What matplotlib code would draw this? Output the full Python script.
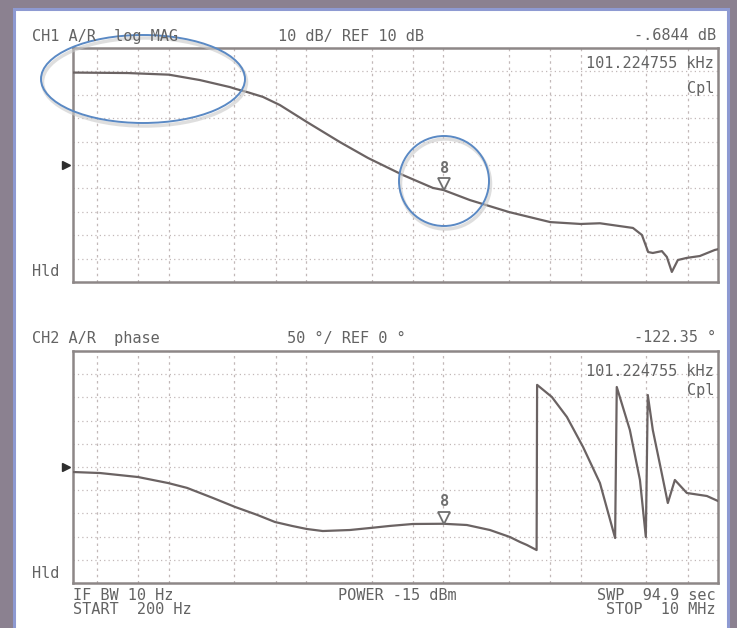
import numpy as np
import matplotlib.pyplot as plt
from matplotlib.patches import Ellipse, Rectangle
from matplotlib import transforms

# CH1: A/R log MAG (frequency in Hz, value in dB)
mag_freq = [200, 500, 1000, 1680, 2780, 3030, 3700, 4840, 6440, 10100, 17600,
            28200, 50700, 83800, 100000, 156000, 300000, 600000, 1000000,
            1380000, 2400000, 2790000, 3100000, 3350000, 3900000, 4240000,
            4610000, 5100000, 5930000, 7370000, 9480000, 10000000]
mag_db = [49.5, 49.3, 48.6, 46.3, 43.3, 42.6, 41.2, 39.1, 35.6, 28.4, 19.8,
          13.0, 5.7, 0.2, -0.7, -5.0, -10.1, -14.4, -15.2,
          -14.9, -16.9, -19.9, -27.2, -27.6, -26.8, -29.3,
          -35.7, -30.6, -29.7, -28.9, -26.3, -26.0]

# CH2: A/R phase (frequency in Hz, value in degrees)
phase_freq = [200, 315, 595, 984, 1354, 2094, 3026, 4376, 5918, 7874, 10100,
              13200, 20800, 29100, 40700, 59900, 100000, 148000, 218000,
              305000, 361000, 405000, 477000, 481000, 616000, 793000,
              1040000, 1380000, 1780000, 1830000, 2280000, 2700000, 2980000,
              3080000, 3350000, 3770000, 4310000, 4850000, 5930000, 8300000,
              10000000]
phase_deg = [-10.8, -13.0, -21.6, -34.5, -45.0, -66.8, -86.0, -103.0, -118.5,
             -127.0, -133.6, -138.0, -135.8, -131.5, -127.0, -122.8, -122.35,
             -125.0, -135.8, -150.9, -161.6, -168.0, -179.0, 177.0, 150.9,
             107.8, 43.1, -34.5, -153.0, 172.4, 79.7, -28.0, -150.9, 155.2,
             79.7, 6.5, -77.6, -28.0, -56.0, -62.5, -73.3]

grid_freq = [300, 600, 1e3, 3e3, 6e3, 1e4, 3e4, 6e4, 1e5, 3e5, 6e5, 1e6, 3e6, 6e6]
f_start, f_stop = 200, 1e7

marker_freq = 101224.755
marker_mag = -0.6844
marker_phase = -122.35

trace_col = '#6b6363'
grid_col = '#c2b8b8'
text_col = '#636363'
mono = 'DejaVu Sans Mono'

fig = plt.figure(figsize=(7.37, 6.28), dpi=100)
fig.patch.set_facecolor('#8b8190')

# background panel (pixel coordinates)
bg = fig.add_axes([0, 0, 1, 1], zorder=0)
bg.set_xlim(0, 737)
bg.set_ylim(628, 0)
bg.axis('off')
bg.add_patch(Rectangle((14, 9), 714, 630, facecolor='white',
                       edgecolor='#8e9ad2', lw=2.2))


def setup(ax, ref, per_div):
    ax.set_xscale('log')
    ax.set_xlim(f_start, f_stop)
    ax.set_ylim(ref - 5 * per_div, ref + 5 * per_div)
    ax.set_facecolor('white')
    for f in grid_freq:
        ax.axvline(f, color=grid_col, lw=0.9, ls=(0, (2, 3)), zorder=1)
    for k in range(1, 10):
        ax.axhline(ref - 5 * per_div + k * per_div, color=grid_col, lw=0.9,
                   ls=(0, (1, 2.5)), zorder=1)
    ax.set_xticks([])
    ax.set_yticks([])
    ax.minorticks_off()
    for s in ax.spines.values():
        s.set_color('#8d8787')
        s.set_linewidth(1.8)
    # reference position triangle
    tr = transforms.blended_transform_factory(ax.transAxes, ax.transData)
    ax.plot([-0.011], [ref], marker='>', ms=6, color='#2e2e2e',
            transform=tr, clip_on=False, zorder=5)


def draw_marker(ax, f, v):
    tri = transforms.offset_copy(ax.transData, fig=fig, x=0, y=6, units='dots')
    ax.plot([f], [v], marker='v', ms=8, mfc='white', mec='#6f6f6f',
            mew=1.3, transform=tri, zorder=4)
    ax.annotate('8', xy=(f, v), xytext=(0, 22), textcoords='offset pixels',
                ha='center', va='center', fontsize=11, color='#707070',
                family=mono, fontweight='bold', zorder=4)


ax1 = fig.add_axes([73 / 737, 1 - 282 / 628, 645 / 737, 234 / 628], zorder=1)
setup(ax1, 10, 10)
ax1.plot(mag_freq, mag_db, color=trace_col, lw=1.6, zorder=3)
draw_marker(ax1, marker_freq, marker_mag)

ax2 = fig.add_axes([73 / 737, 1 - 583 / 628, 645 / 737, 232 / 628], zorder=1)
setup(ax2, 0, 50)
ax2.plot(phase_freq, phase_deg, color=trace_col, lw=1.6, zorder=3)
draw_marker(ax2, marker_freq, marker_phase)

# overlay for texts and annotations (pixel coordinates)
ov = fig.add_axes([0, 0, 1, 1], zorder=5)
ov.patch.set_alpha(0)
ov.set_xlim(0, 737)
ov.set_ylim(628, 0)
ov.axis('off')

kw = dict(family=mono, fontsize=11, color=text_col, va='center')
ov.text(32, 36, 'CH1 A/R  log MAG', ha='left', **kw)
ov.text(278, 36, '10 dB/ REF 10 dB', ha='left', **kw)
ov.text(716, 36, '-.6844 dB', ha='right', **kw)
ov.text(714, 64, '101.224755 kHz', ha='right', **kw)
ov.text(714, 88, 'Cpl', ha='right', **kw)
ov.text(32, 272, 'Hld', ha='left', **kw)

ov.text(32, 338, 'CH2 A/R  phase', ha='left', **kw)
ov.text(287, 338, '50 °/ REF 0 °', ha='left', **kw)
ov.text(716, 338, '-122.35 °', ha='right', **kw)
ov.text(714, 372, '101.224755 kHz', ha='right', **kw)
ov.text(714, 391, 'Cpl', ha='right', **kw)
ov.text(32, 573, 'Hld', ha='left', **kw)

ov.text(73, 595, 'IF BW 10 Hz', ha='left', **kw)
ov.text(73, 610, 'START  200 Hz', ha='left', **kw)
ov.text(338, 595, 'POWER -15 dBm', ha='left', **kw)
ov.text(716, 595, 'SWP  94.9 sec', ha='right', **kw)
ov.text(716, 610, 'STOP  10 MHz', ha='right', **kw)

# blue highlight annotations with soft shadow
for (cx, cy, w, h) in [(143, 79, 204, 88), (444, 181, 90, 90)]:
    ov.add_patch(Ellipse((cx + 1.5, cy + 3), w, h, fill=False,
                         ec='#c9c9c9', lw=2.5, alpha=0.6))
    ov.add_patch(Ellipse((cx, cy), w, h, fill=False, ec='#5a89c4', lw=1.4))

fig.savefig('out.png', dpi=100, facecolor=fig.get_facecolor())
